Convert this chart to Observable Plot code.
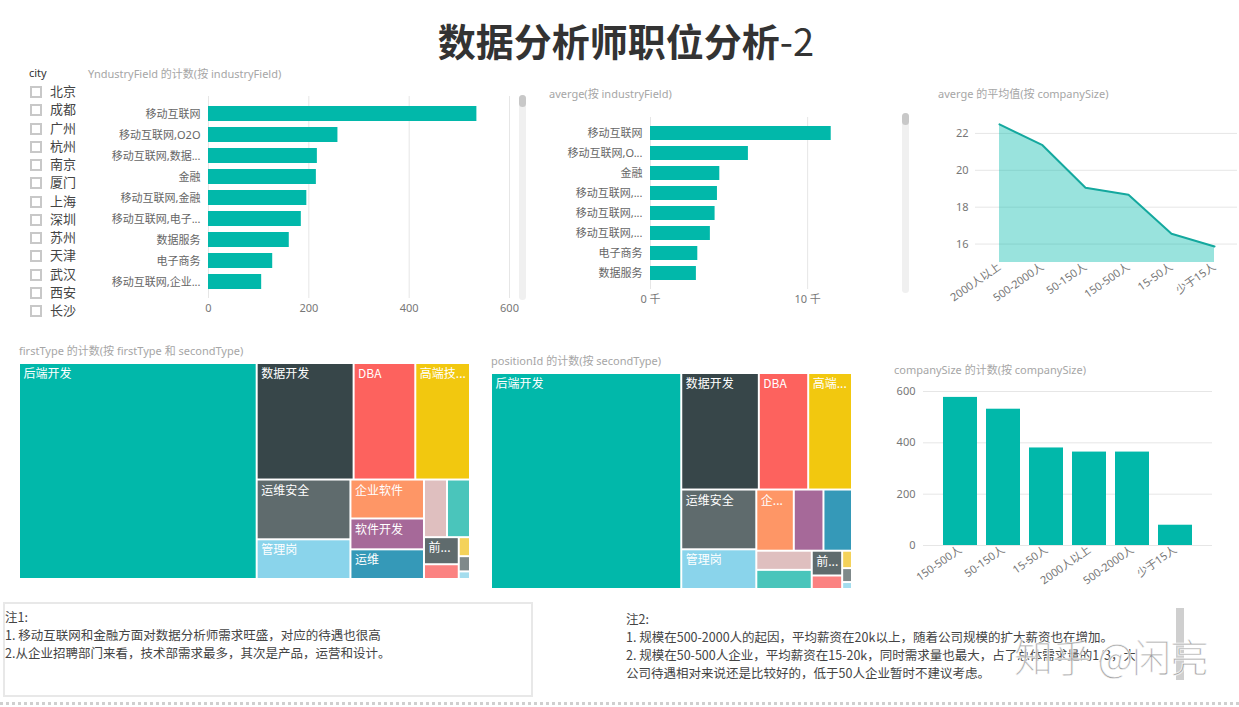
<!DOCTYPE html>
<html><head><meta charset="utf-8">
<script src="https://cdn.jsdelivr.net/npm/d3@7"></script>
<script src="https://cdn.jsdelivr.net/npm/@observablehq/plot@0.6"></script>
<style>
html,body{margin:0;padding:0;background:#fff;}
#root{position:relative;width:1239px;height:707px;overflow:hidden;background:#fff;font-family:'Segoe UI','Noto Sans','Noto Sans CJK SC',sans-serif;}
.abs{position:absolute;}
.vtitle{position:absolute;font-size:11px;color:#a6a6a6;white-space:nowrap;line-height:14px;}
.scroll{position:absolute;width:7px;background:#f0f0f0;border-radius:4px;}
.thumb{position:absolute;left:0;top:0;width:7px;height:12px;background:#c8c8c8;border-radius:4px;}
.note{position:absolute;font-size:12.5px;color:#444;line-height:18px;white-space:nowrap;font-family:'Noto Sans CJK SC',sans-serif;}
</style></head>
<body><div id="root"></div>
<script>
// ---------- data ----------
const cities = ["北京","成都","广州","杭州","南京","厦门","上海","深圳","苏州","天津","武汉","西安","长沙"];
const industryNames = ["移动互联网","移动互联网,O2O","移动互联网,数据服务","金融","移动互联网,金融","移动互联网,电子商务","数据服务","电子商务","移动互联网,企业服务"];
const industryCounts = [535, 258, 217, 215, 196, 185, 161, 128, 106];
const salaryIndustries = ["移动互联网","移动互联网,O2O","金融","移动互联网,数据服务","移动互联网,金融","移动互联网,电子商务","电子商务","数据服务"];
const salarySums = [11500, 6230, 4410, 4260, 4110, 3810, 3010, 2920];
const avgSizes = ["2000人以上","500-2000人","50-150人","150-500人","15-50人","少于15人"];
const avgSalary = [22.49, 21.36, 19.05, 18.67, 16.56, 15.87];
const countSizes = ["150-500人","50-150人","15-50人","2000人以上","500-2000人","少于15人"];
const sizeCounts = [577, 531, 380, 364, 364, 79];
const jobTypes = ["后端开发","数据开发","DBA","高端技术职位","运维安全","管理岗","企业软件","软件开发","运维","测试","硬件开发","前端开发","移动开发","项目管理","网络工程","其他"];
const jobCounts = [1200, 264, 168, 149, 131, 87, 67, 53, 51, 31, 31, 22, 12, 5, 4, 2];
const palette = ["#01B8AA","#374649","#FD625E","#F2C80F","#5F6B6D","#8AD4EB","#FE9666","#A66999","#3599B8","#DFBFBF","#4AC5BB","#5F6B6D","#FB8281","#F4D25A","#7F898A","#A4DDEE"];
const titleMain = "数据分析师职位分析";
const titleSuffix = "-2";
const note1Lines = ["注1:","1.  移动互联网和金融方面对数据分析师需求旺盛，对应的待遇也很高","2.从企业招聘部门来看，技术部需求最多，其次是产品，运营和设计。"];
const note2Lines = ["注2:","1. 规模在500-2000人的起因，平均薪资在20k以上，随着公司规模的扩大薪资也在增加。","2. 规模在50-500人企业，平均薪资在15-20k，同时需求量也最大，占了总体需求量的1/3，大","公司待遇相对来说还是比较好的，低于50人企业暂时不建议考虑。"];
const watermark = "知乎 @闲亮";

// ---------- helpers ----------
const FONT = "'Segoe UI','Noto Sans','Noto Sans CJK SC',sans-serif";
const root = document.getElementById("root");
const ctx = document.createElement("canvas").getContext("2d");
function fit(text, maxW, font) {
  ctx.font = font;
  if (ctx.measureText(text).width <= maxW) return text;
  for (let k = text.length - 1; k > 0; k--) {
    const t = text.slice(0, k) + "...";
    if (ctx.measureText(t).width <= maxW) return t;
  }
  return "";
}
function place(el, left, top) {
  el.style.position = "absolute"; el.style.left = left + "px"; el.style.top = top + "px";
  root.appendChild(el); return el;
}
function div(cls, left, top, html, extra) {
  const d = document.createElement("div"); d.className = cls; d.innerHTML = html || "";
  if (extra) Object.assign(d.style, extra);
  return place(d, left, top);
}
const plotStyle = {fontFamily: FONT, fontSize: "11px", color: "#777", background: "transparent", overflow: "visible"};

// ---------- title ----------
div("abs", 0, 19, `<span style="font-weight:700">${titleMain}</span><span style="font-weight:400">${titleSuffix}</span>`,
  {width: "1252px", textAlign: "center", fontSize: "38px", lineHeight: "42px", color: "#333", fontFamily: "'Noto Sans CJK SC',sans-serif"});

// ---------- city slicer ----------
div("abs", 29, 65, "city", {fontSize: "11px", color: "#333"});
cities.forEach((c, i) => {
  const y = 83 + i * 18.25;
  div("abs", 30, y + 3, "", {width: "8px", height: "8px", border: "2px solid #c8c8c8"});
  div("abs", 50, y - 1, c, {fontSize: "13px", color: "#444", lineHeight: "18px", fontFamily: "'Noto Sans CJK SC',sans-serif"});
});

// ---------- chart 1: industry counts ----------
div("vtitle", 88, 67, "YndustryField 的计数(按 industryField)");
const rows1 = industryNames.map((n, i) => ({name: n, count: industryCounts[i]}));
place(Plot.plot({
  width: 420, height: 225, marginLeft: 108, marginRight: 11, marginTop: 1, marginBottom: 22,
  style: plotStyle,
  x: {domain: [0, 600]},
  y: {domain: industryNames, padding: 0.3},
  marks: [
    Plot.gridX({ticks: [0, 200, 400, 600], stroke: "#e6e6e6", strokeOpacity: 1}),
    Plot.barX(rows1, {x: "count", y: "name", fill: "#01B8AA"}),
    Plot.axisX({ticks: [0, 200, 400, 600], tickSize: 0, tickPadding: 6, label: null}),
    Plot.axisY({tickSize: 0, tickPadding: 8, label: null, fill: "#666", tickFormat: d => fit(d, 92, "11px " + FONT)})
  ]
}), 100, 95);
const s1 = div("scroll", 519, 95, "", {height: "205px"}); s1.appendChild(Object.assign(document.createElement("div"), {className: "thumb"}));

// ---------- chart 2: salary by industry ----------
div("vtitle", 549, 87, "averge(按 industryField)");
const rows2 = salaryIndustries.map((n, i) => ({name: n, v: salarySums[i]}));
place(Plot.plot({
  width: 360, height: 210, marginLeft: 110, marginRight: 30, marginTop: 17, marginBottom: 21,
  style: plotStyle,
  x: {domain: [0, 14000]},
  y: {domain: salaryIndustries, padding: 0.3},
  marks: [
    Plot.gridX({ticks: [0, 10000], stroke: "#e6e6e6", strokeOpacity: 1}),
    Plot.barX(rows2, {x: "v", y: "name", fill: "#01B8AA"}),
    Plot.axisX({ticks: [0, 10000], tickSize: 0, tickPadding: 6, label: null, tickFormat: d => (d / 1000) + " 千"}),
    Plot.axisY({tickSize: 0, tickPadding: 8, label: null, fill: "#666", tickFormat: d => fit(d, 75, "11px " + FONT)})
  ]
}), 540, 100);
const s2 = div("scroll", 902, 113, "", {height: "180px"}); s2.appendChild(Object.assign(document.createElement("div"), {className: "thumb"}));

// ---------- chart 3: average salary by company size ----------
div("vtitle", 938, 87, "averge 的平均值(按 companySize)");
const rows3 = avgSizes.map((s, i) => ({size: s, v: avgSalary[i]}));
place(Plot.plot({
  width: 309, height: 220, marginLeft: 45, marginRight: 2, marginTop: 20, marginBottom: 58,
  style: plotStyle,
  x: {type: "point", domain: avgSizes, padding: 0.5},
  y: {domain: [15, 22.7]},
  marks: [
    Plot.gridY({ticks: [16, 18, 20, 22], stroke: "#e6e6e6", strokeOpacity: 1}),
    Plot.areaY(rows3, {x: "size", y1: 15, y2: "v", fill: "#01B8AA", fillOpacity: 0.4}),
    Plot.lineY(rows3, {x: "size", y: "v", stroke: "#14A89E", strokeWidth: 2}),
    Plot.axisY({ticks: [16, 18, 20, 22], tickSize: 0, tickPadding: 7, label: null}),
    Plot.axisX({tickSize: 0, tickPadding: 3, tickRotate: -35, label: null})
  ]
}), 930, 100);

// ---------- treemaps ----------
function treemap(w, h) {
  const data = {children: jobTypes.map((n, i) => ({name: n, value: jobCounts[i]}))};
  const r = d3.hierarchy(data).sum(d => d.value || 0).sort((a, b) => b.value - a.value);
  d3.treemap().size([w, h]).tile(d3.treemapSquarify)(r);
  const leaves = r.leaves().map(d => ({name: d.data.name, x0: d.x0, x1: d.x1, y0: d.y0, y1: d.y1}));
  const font = "12px 'Noto Sans CJK SC'";
  leaves.forEach(d => {
    const bw = d.x1 - d.x0, bh = d.y1 - d.y0;
    d.label = (bh > 22.5 && bw >= 30) ? fit(d.name, bw - 7, font) : "";
  });
  return Plot.plot({
    width: w, height: h, margin: 0, style: plotStyle,
    x: {domain: [0, w], range: [0, w], axis: null},
    y: {domain: [0, h], range: [0, h], axis: null},
    color: {domain: jobTypes, range: palette},
    marks: [
      Plot.rect(leaves, {x1: "x0", x2: "x1", y1: "y0", y2: "y1", fill: "name", inset: 1}),
      Plot.text(leaves.filter(d => d.label), {x: d => d.x0 + 4, y: d => d.y0 + 6, text: "label", textAnchor: "start", lineAnchor: "top", fill: "white", fontSize: 12, fontFamily: "'Noto Sans CJK SC',sans-serif"})
    ]
  });
}
div("vtitle", 19, 344, "firstType 的计数(按 firstType 和 secondType)");
place(treemap(451, 216), 19, 363);
div("vtitle", 491, 354, "positionId 的计数(按 secondType)");
place(treemap(361, 216), 491, 373);

// ---------- chart 6: count by company size ----------
div("vtitle", 894, 363, "companySize 的计数(按 companySize)");
const rows6 = countSizes.map((s, i) => ({size: s, c: sizeCounts[i]}));
place(Plot.plot({
  width: 359, height: 225, marginLeft: 43, marginRight: 27, marginTop: 11, marginBottom: 60,
  style: plotStyle,
  x: {domain: countSizes, paddingInner: 0.22, paddingOuter: 0.42},
  y: {domain: [0, 600]},
  marks: [
    Plot.gridY({ticks: [0, 200, 400, 600], stroke: "#e6e6e6", strokeOpacity: 1}),
    Plot.barY(rows6, {x: "size", y: "c", fill: "#01B8AA"}),
    Plot.axisY({ticks: [0, 200, 400, 600], tickSize: 0, tickPadding: 8, label: null}),
    Plot.axisX({tickSize: 0, tickPadding: 3, tickRotate: -35, label: null})
  ]
}), 880, 380);

// ---------- notes ----------
div("abs", 3, 602, "", {width: "526px", height: "91px", border: "2px solid #e8e8e8"});
div("note", 5, 608, note1Lines.join("<br>"));
div("note", 626, 610, note2Lines.join("<br>"));
div("abs", 1176, 608, "", {width: "8px", height: "72px", background: "#cfcfcf"});
div("abs", 1014, 633, watermark, {fontSize: "39px", lineHeight: "44px", letterSpacing: "-1px", color: "rgba(140,140,140,0.85)", fontFamily: "'Noto Sans CJK SC',sans-serif", fontWeight: "300", webkitTextStroke: "1px rgba(255,255,255,0.8)", whiteSpace: "nowrap"});
div("abs", 0, 702, "", {width: "1239px", height: "0", borderTop: "3px dotted #cfcfcf"});
</script></body></html>
